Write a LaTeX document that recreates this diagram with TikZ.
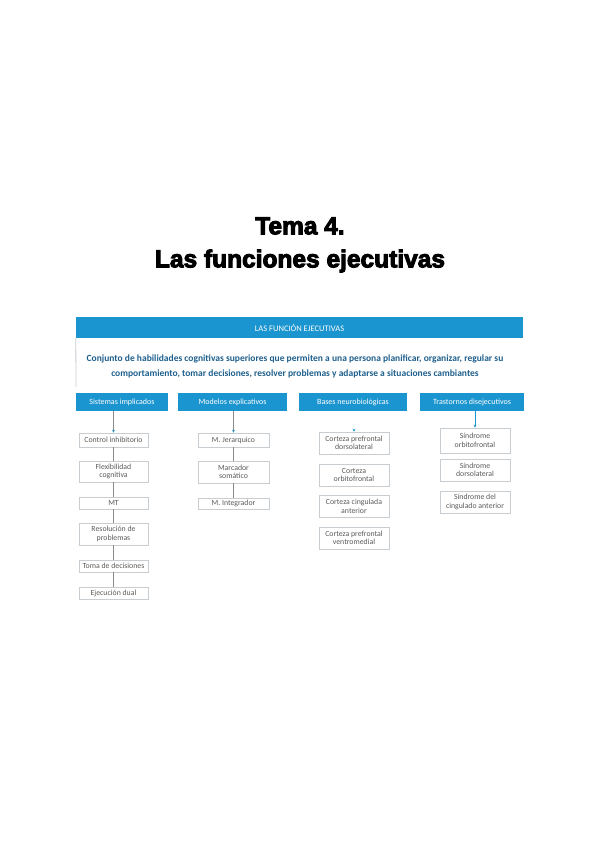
\documentclass[tikz,border=0pt]{standalone}
\usepackage{fontspec}
\setmainfont{Carlito}
\newfontfamily\titulo[FakeBold=4]{Liberation Sans}
\usetikzlibrary{positioning,arrows.meta}
\definecolor{azul}{HTML}{1B95CF}
\definecolor{azuloscuro}{HTML}{1E5F8C}
\definecolor{gris}{HTML}{5A5A5A}
\definecolor{grisclaro}{HTML}{C8CDD2}

\begin{document}
\begin{tikzpicture}[x=1pt, y=-1pt,
    barra/.style={fill=azul, text=white, font=\fontsize{8}{9}\selectfont, inner sep=0pt},
    caja/.style={draw=grisclaro, line width=0.6pt, text=gris, align=center, inner sep=0pt,
                 font=\fontsize{7.8}{8.6}\selectfont},
    enlace/.style={draw=gris!70, line width=0.6pt},
    flecha/.style={enlace, -{Stealth[length=3pt, width=3pt, color=azul]}}]
    \useasboundingbox (0,0) rectangle (600,848);

    % titulo
    \node[font=\titulo\bfseries\fontsize{24.5}{28}\selectfont] (tema) at (300,226) {Tema 4.};
    \node[font=\titulo\bfseries\fontsize{24.5}{28}\selectfont] (titulo) at (300,261) {Las funciones ejecutivas};

    % cabecera y definicion
    \node[barra, font=\fontsize{8.5}{9}\selectfont, minimum width=447pt, minimum height=21pt] (cab) at (299.5,327.5) {LAS FUNCIÓN EJECUTIVAS};
    \node[text=azuloscuro, align=center, font=\bfseries\fontsize{9.5}{15}\selectfont] (def) at (295,366)
      {Conjunto de habilidades cognitivas superiores que permiten a una persona planificar, organizar, regular su\\
       comportamiento, tomar decisiones, resolver problemas y adaptarse a situaciones cambiantes};
    \coordinate (defbase) at (76,387);
    \draw[grisclaro, line width=0.8pt] (cab.south west) -- (defbase);

    % columnas
    \node[barra, minimum width=92pt, minimum height=18pt] (sis) at (122,402) {Sistemas implicados};
    \node[barra, minimum width=109pt, minimum height=18pt] (mod) at (232.5,402) {Modelos explicativos};
    \node[barra, minimum width=108pt, minimum height=18pt] (bas) at (353,402) {Bases neurobiológicas};
    \node[barra, minimum width=104pt, minimum height=18pt] (tra) at (472,402) {Trastornos disejecutivos};

    % sistemas implicados
    \foreach \n/\y/\h/\t in {s1/440/14/Control inhibitorio, s2/471.5/21/Flexibilidad\\cognitiva,
                             s3/503/12/MT, s4/534/22/Resolución de\\problemas,
                             s5/566/12/Toma de decisiones, s6/593/12/Ejecución dual}
      \node[caja, minimum width=69pt, minimum height=\h pt] (\n) at (113.5,\y) {\t};
    \draw[flecha] (sis.south -| s1.north) -- (s1.north);
    \foreach \a/\b in {s1/s2, s2/s3, s3/s4, s4/s5, s5/s6}
      \draw[enlace] (\a) -- (\b);

    % modelos explicativos
    \foreach \n/\y/\h/\t in {m1/440/14/M. Jerarquico, m2/472/22/Marcador\\somático,
                             m3/503.5/11/M. Integrador}
      \node[caja, minimum width=71pt, minimum height=\h pt] (\n) at (233.5,\y) {\t};
    \draw[flecha] (mod.south -| m1.north) -- (m1.north);
    \foreach \a/\b in {m1/m2, m2/m3}
      \draw[enlace] (\a) -- (\b);

    % bases neurobiologicas
    \foreach \n/\y/\t in {b1/443/Corteza prefrontal\\dorsolateral, b2/475/Corteza\\orbitofrontal,
                          b3/506.5/Corteza cingulada\\anterior, b4/538/Corteza prefrontal\\ventromedial}
      \node[caja, minimum width=70pt, minimum height=22pt] (\n) at (354,\y) {\t};
    \draw[flecha, draw=white] (bas.south -| b1.north) -- (b1.north);

    % trastornos disejecutivos
    \foreach \n/\y/\h/\t in {t1/440.5/25/Síndrome\\orbitofrontal, t2/470/22/Síndrome\\dorsolateral,
                             t3/502/22/Síndrome del\\cingulado anterior}
      \node[caja, minimum width=70pt, minimum height=\h pt] (\n) at (475,\y) {\t};
    \draw[flecha, draw=azul] (tra.south -| t1.north) -- (t1.north);
  \end{tikzpicture}
\end{document}
